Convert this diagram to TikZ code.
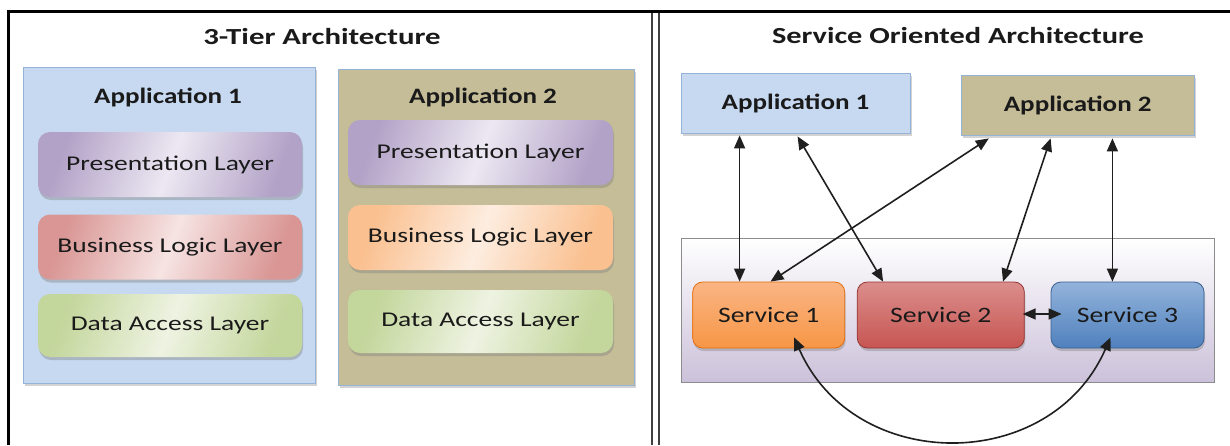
\documentclass[tikz,border=0pt]{standalone}
\usepackage{fontspec}
\setmainfont{Carlito}
\usetikzlibrary{arrows.meta,shadows,calc}
\newcommand{\hstr}[2]{\scalebox{#1}[1]{#2}}
\definecolor{appblue}{HTML}{C6D9F1}
\definecolor{appblueb}{HTML}{95B3D7}
\definecolor{appkhaki}{HTML}{C4BD97}
\definecolor{txt}{HTML}{1A1A1A}
\definecolor{plD}{HTML}{B3A2C7}\definecolor{plL}{HTML}{ECE8F2}
\definecolor{blrD}{HTML}{D99694}\definecolor{blrL}{HTML}{F6E4E3}
\definecolor{bloD}{HTML}{FAC090}\definecolor{bloL}{HTML}{FDEDE0}
\definecolor{daD}{HTML}{C3D69B}\definecolor{daL}{HTML}{EEF3E2}
\definecolor{contB}{HTML}{8C8C8C}\definecolor{contF}{HTML}{CCC1DA}
\definecolor{sOc}{HTML}{F79646}\definecolor{sOl}{HTML}{FAB584}\definecolor{sOb}{HTML}{E46C0A}
\definecolor{sRc}{HTML}{C65552}\definecolor{sRl}{HTML}{DB8E8C}\definecolor{sRb}{HTML}{943634}
\definecolor{sBc}{HTML}{4F81BD}\definecolor{sBl}{HTML}{93B3DB}\definecolor{sBb}{HTML}{366092}
\definecolor{linec}{HTML}{1F1F1F}
\tikzset{
  ttl/.style={font=\bfseries\fontsize{23}{27}\selectfont, text=txt, inner sep=0pt},
  appttl/.style={font=\bfseries\fontsize{22}{26}\selectfont, text=txt, inner sep=0pt},
  appbox/.style={draw=appblueb, line width=0.8pt, drop shadow={shadow xshift=1.5pt, shadow yshift=-2.5pt, opacity=0.35}},
  layer/.style={rounded corners=12pt, minimum width=264pt, minimum height=65pt,
     font=\fontsize{21}{25}\selectfont, text=txt,
     drop shadow={shadow xshift=1pt, shadow yshift=-3pt, opacity=0.4}},
  plstyle/.style={layer, left color=plD, right color=plD, middle color=plL, shading angle=70},
  blrstyle/.style={layer, left color=blrD, right color=blrD, middle color=blrL, shading angle=70},
  blostyle/.style={layer, left color=bloD, right color=bloD, middle color=bloL, shading angle=70},
  dastyle/.style={layer, left color=daD, right color=daD, middle color=daL, shading angle=70},
  svc/.style={rounded corners=10pt, minimum height=66pt, font=\fontsize{22}{26}\selectfont, text=txt,
     line width=0.8pt, drop shadow={shadow xshift=1pt, shadow yshift=-3pt, opacity=0.4}},
  biarrow/.style={{Triangle[length=13pt,width=11pt]}-{Triangle[length=13pt,width=11pt]}, line width=1.6pt, draw=linec},
}
\begin{document}
\begin{tikzpicture}[x=1pt,y=-1pt]
\useasboundingbox (0,0) rectangle (1230,445);
% frame
\draw[line width=3pt, black] (8.5,445) -- (8.5,11.3) -- (1230,11.3);
\draw[line width=2pt, black!75] (652,13) -- (652,445);
\draw[line width=2pt, black!75] (659,13) -- (659,445);

% left panel
\node[ttl] (t1) at (322,37) {\hstr{1.34}{3-Tier Architecture}};
\node[appbox, fill=appblue, minimum width=292pt, minimum height=316pt] (a1) at (169,225) {};
\node[appttl] (a1t) at (168,97) {\hstr{1.23}{Application 1}};
\node[plstyle] (pl1) at (170,164.5) {\hstr{1.31}{Presentation Layer}\hspace{16pt}};
\node[blrstyle] (bl1) at (170,247) {\hstr{1.31}{Business Logic Layer}};
\node[dastyle, minimum height=63pt] (da1) at (170,325.5) {\hstr{1.31}{Data Access Layer}\hspace{4pt}};

\node[appbox, fill=appkhaki, minimum width=296pt, minimum height=316pt] (a2) at (486,227) {};
\node[appttl] (a2t) at (483,97) {\hstr{1.23}{Application 2}};
\node[plstyle, minimum width=265pt] (pl2) at (480.5,152.5) {\hstr{1.31}{Presentation Layer}\hspace{14pt}};
\node[blostyle, minimum width=265pt] (bl2) at (480.5,237.5) {\hstr{1.31}{Business Logic Layer}};
\node[dastyle, minimum width=265pt, minimum height=63pt] (da2) at (480.5,321.5) {\hstr{1.31}{Data Access Layer}};

% right panel
\node[ttl] (t2) at (958,36) {\hstr{1.32}{Service Oriented Architecture}};
\node[appbox, fill=appblue, minimum width=229pt, minimum height=60pt, font=\bfseries\fontsize{22}{26}\selectfont, text=txt] (ra1) at (795.5,103) {\hstr{1.23}{Application 1}\hspace{6pt}};
\node[appbox, fill=appkhaki, minimum width=233pt, minimum height=60pt, font=\bfseries\fontsize{22}{26}\selectfont, text=txt] (ra2) at (1077.7,105) {\hstr{1.23}{Application 2}\hspace{4pt}};
\node[draw=contB, line width=0.8pt, top color=white, bottom color=contF, minimum width=533pt, minimum height=144pt] (cont) at (947.5,310) {};
\node[svc, draw=sOb, top color=sOl, bottom color=sOc, minimum width=152pt] (s1) at (768.7,315) {\hstr{1.26}{Service 1}\hspace{4pt}};
\node[svc, draw=sRb, top color=sRl, bottom color=sRc, minimum width=167pt] (s2) at (940.8,315) {\hstr{1.26}{Service 2}};
\node[svc, draw=sBb, top color=sBl, bottom color=sBc, minimum width=153pt] (s3) at (1127.5,315) {\hstr{1.26}{Service 3}\hspace{3pt}};

% connectors
\draw[biarrow] ([xshift=59pt,yshift=-2pt]ra1.south west) -- ([xshift=47.3pt]s1.north west);
\draw[biarrow] ([xshift=117pt,yshift=-3pt]ra1.south west) -- ([xshift=26.2pt]s2.north west);
\draw[biarrow] ([xshift=28pt,yshift=-3pt]ra2.south west) -- ([xshift=78.2pt]s1.north west);
\draw[biarrow] ([xshift=89.8pt,yshift=-3pt]ra2.south west) -- ([xshift=146.1pt]s2.north west);
\draw[biarrow] ([xshift=151.6pt,yshift=-3pt]ra2.south west) -- ([xshift=61.8pt]s3.north west);
\draw[biarrow] ([xshift=-2pt,yshift=1pt]s2.east) -- ([xshift=11pt,yshift=1pt]s3.west);
\draw[biarrow] ([xshift=101.8pt,yshift=11pt]s1.south west) .. controls +(60,137) and +(-60,137) .. ([xshift=59.9pt,yshift=11pt]s3.south west);
\end{tikzpicture}
\end{document}
